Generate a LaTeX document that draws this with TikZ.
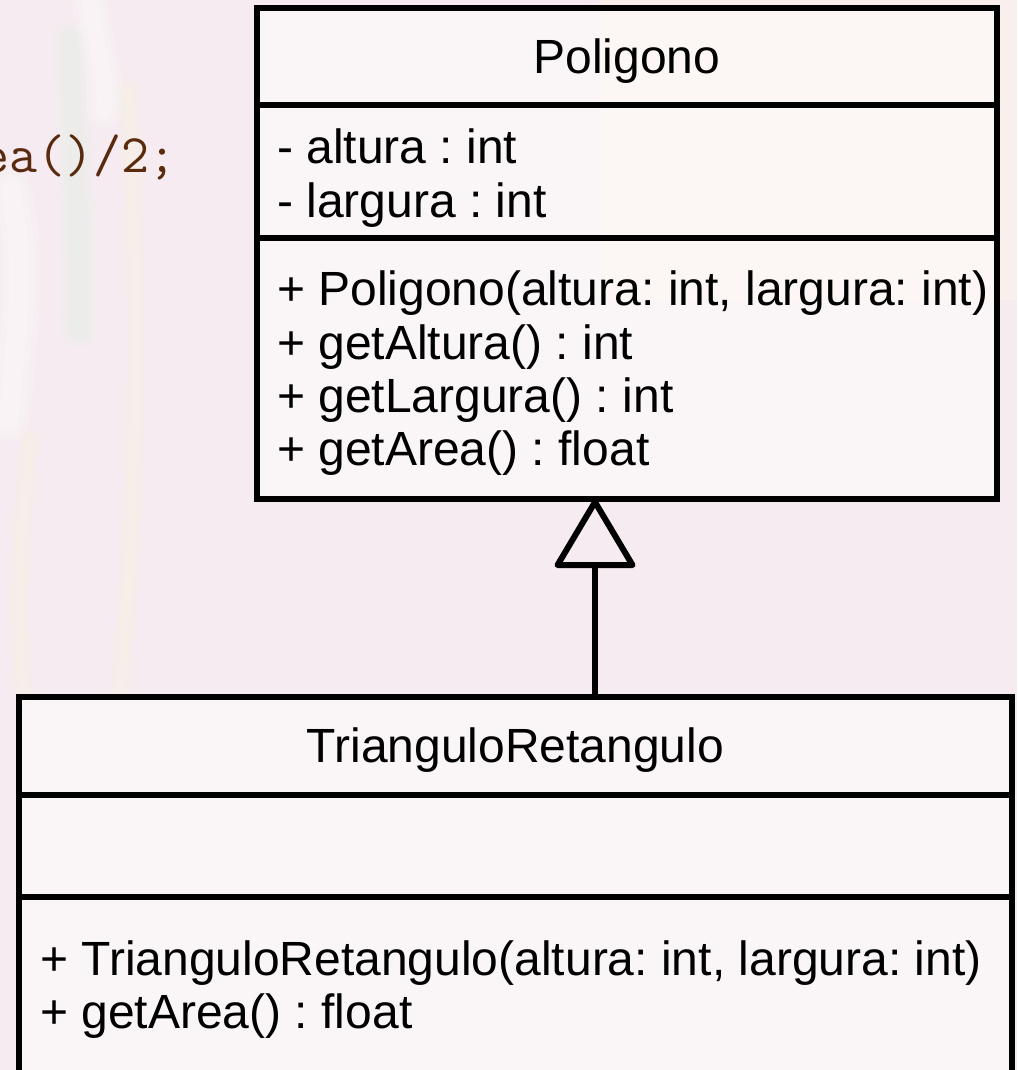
\documentclass[tikz,border=0pt]{standalone}
\usepackage{fontspec}
\setmainfont{Liberation Sans}
\usetikzlibrary{arrows.meta,calc}
\definecolor{bgpink}{HTML}{F6EBF0}
\definecolor{bgpeach}{HTML}{FAF1EC}
\definecolor{codebrown}{HTML}{5A2A0E}
\definecolor{streakgreen}{HTML}{E2F1E8}
\definecolor{streakyellow}{HTML}{F8F3E0}
\frenchspacing

\begin{document}
\begin{tikzpicture}[x=1pt,y=-1pt,
  umlbox/.style={rectangle, draw=black, line width=6pt, fill=white,
    fill opacity=0.5, draw opacity=1, text opacity=1, inner sep=0pt, outer sep=0pt},
  rule/.style={line width=6pt},
  member/.style={anchor=base west, inner sep=0pt, font=\fontsize{48}{54}\selectfont},
  classname/.style={anchor=base, inner sep=0pt, font=\fontsize{48}{54}\selectfont},
  codetext/.style={anchor=base west, inner sep=0pt, text=codebrown,
    font=\ttfamily\fontsize{54.3}{60}\selectfont},
  inherit/.style={line width=6pt, -{Triangle[open, round, length=72pt, width=84pt]}},
  softstreak/.style={line cap=round, opacity=0.18}
]
% page and backdrop
\fill[bgpink] (0,0) rectangle (1017,1070);
\useasboundingbox (0,0) rectangle (1017,1070);
\fill[bgpeach, opacity=0.8] (600,0) rectangle (1017,300);
% soft streaks of the slide backdrop, each built from stacked strokes
\foreach \w in {36,26,16}{
  \draw[streakgreen, softstreak, line width=\w pt]
    (70,40) .. controls (76,150) and (80,260) .. (78,330);
  \draw[white, softstreak, line width=\w pt]
    (88,-10) .. controls (95,40) and (108,80) .. (104,110);
  \draw[white, softstreak, line width=1.2*\w pt]
    (10,190) .. controls (22,240) and (22,300) .. (8,420);
  \draw[streakyellow, softstreak, line width=0.6*\w pt]
    (128,90) .. controls (138,250) and (142,450) .. (120,690);
  \draw[streakyellow, softstreak, line width=0.6*\w pt]
    (30,440) .. controls (20,540) and (15,620) .. (25,700);
}

% code fragment behind the diagram
\node[codetext] (code) at (-19,172) {ea()/2;};

% class Poligono
\node[umlbox, minimum width=740pt, minimum height=491pt] (poli) at (627,253.5) {};
\draw[rule] ([yshift=-97pt]poli.north west) -- ([yshift=-97pt]poli.north east);
\draw[rule] ([yshift=-230pt]poli.north west) -- ([yshift=-230pt]poli.north east);
\node[classname] (poliname) at (627,74) {Poligono};
\node[member] (pattr1) at (277,163) {- altura : int};
\node[member] (pattr2) at (277,217) {- largura : int};
\node[member] (pop1) at (277,305) {+ Poligono(altura: int, largura: int)};
\node[member] (pop2) at (277,359) {+ getAltura() : int};
\node[member] (pop3) at (277,412) {+ getLargura() : int};
\node[member] (pop4) at (277,465) {+ getArea() : float};

% class TrianguloRetangulo
\node[umlbox, minimum width=993pt, minimum height=413pt] (tri) at (515.5,903.5) {};
\draw[rule] ([yshift=-98pt]tri.north west) -- ([yshift=-98pt]tri.north east);
\draw[rule] ([yshift=-200pt]tri.north west) -- ([yshift=-200pt]tri.north east);
\node[classname] (triname) at (515.5,762) {TrianguloRetangulo};
\node[member] (top1) at (40,975) {+ TrianguloRetangulo(altura: int, largura: int)};
\node[member] (top2) at (40,1028) {+ getArea() : float};

% generalization
\coordinate (lnk) at (595,0);
\draw[inherit] (tri.north -| lnk) -- (poli.south -| lnk);
\end{tikzpicture}
\end{document}
